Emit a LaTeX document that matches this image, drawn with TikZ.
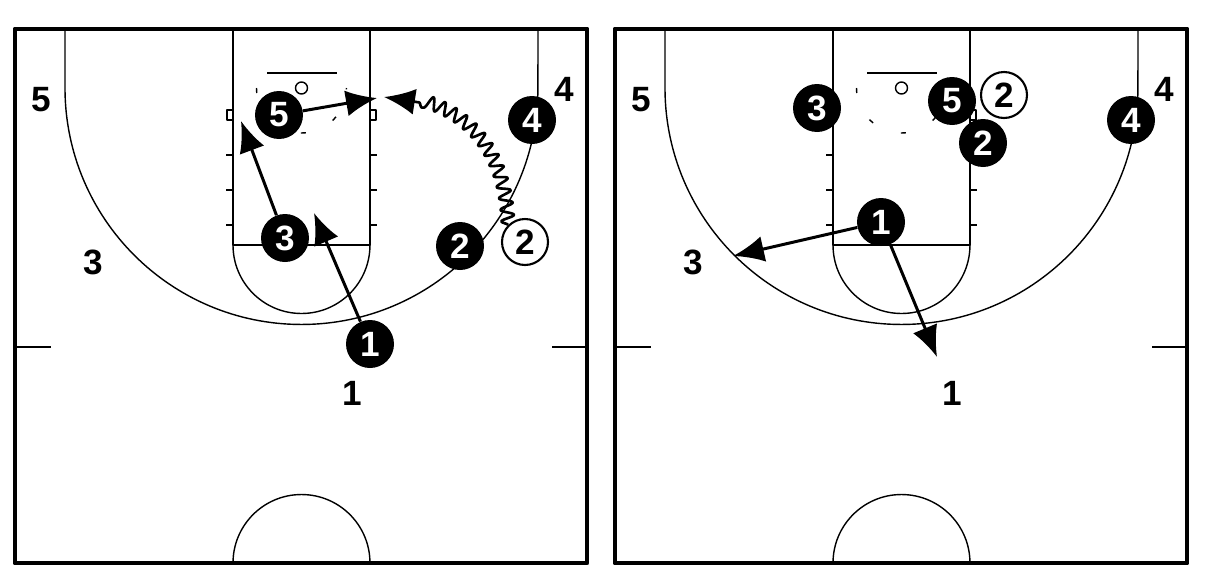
\documentclass[tikz,border=0pt]{standalone}
\usepackage{fontspec}
\setmainfont{Liberation Sans}
\usepackage{tikz}
\usetikzlibrary{arrows.meta,decorations.pathmorphing}

\begin{document}
\begin{tikzpicture}[x=0.02cm, y=-0.02cm, line join=round,
    court/.style={line width=0.8pt},
    border/.style={line width=2.8pt},
    plyr/.style={circle, fill=black, text=white, minimum size=0.96cm, inner sep=0pt, font=\bfseries\fontsize{20}{22}\selectfont},
    newspot/.style={circle, draw=black, line width=1.2pt, fill=white, minimum size=0.92cm, inner sep=0pt, font=\bfseries\fontsize{20}{22}\selectfont},
    spot/.style={inner sep=0pt, font=\bfseries\fontsize{20}{24}\selectfont},
    move/.style={line width=1.7pt, -{Latex[length=0.62cm,width=0.52cm]}},
    drib/.style={line width=1.5pt, -{Latex[length=0.62cm,width=0.52cm]}, decorate,
        decoration={snake, amplitude=0.13cm, segment length=0.24cm, post length=0.7cm}}]

    \useasboundingbox (0,0) rectangle (1206,582);

    % both half courts
    \foreach \ox in {0,600} {
    \begin{scope}[shift={(\ox,0)}]
        \draw[court] (65,30) -- (65,88) arc (180:360:4.73cm) -- (538,30);
        \draw[court] (233,30) rectangle (370,245);
        \draw[court] (233,245) arc (180:360:1.37cm);
        \draw[court] (267,73) -- (337,73);
        \draw[court] (301.5,88) circle (0.12cm);
        \draw[court, dash pattern=on 0.1cm off 0.6cm] (256.5,88) arc (180:360:0.9cm);
        \draw[court] (227,110) rectangle (233,120) (370,110) rectangle (376,120);
        \foreach \hy in {155,190,225}
            \draw[court] (226,\hy) -- (233,\hy) (370,\hy) -- (377,\hy);
        \draw[court] (15,347) -- (51,347) (552,347) -- (587,347);
        \draw[court] (233,563) arc (180:0:1.37cm);
        \draw[border] (15,29) rectangle (587,563);
    \end{scope}
    }

    % left: spots
    \node[spot] (l5) at (41,100) {5};
    \node[spot] (l3) at (93,262) {3};
    \node[spot] (l4) at (564,89) {4};
    \node[spot] (l1) at (352,393) {1};

    % left: players
    \node[plyr] (a5) at (279,115) {5};
    \node[plyr] (a3) at (285,238) {3};
    \node[plyr] (a4) at (532,120) {4};
    \node[plyr] (a2) at (460,246) {2};
    \node[newspot] (a2n) at (525,242) {2};
    \node[plyr] (a1) at (370,344) {1};

    \coordinate (t1) at (314,213);
    \coordinate (t3) at (241,121);
    \coordinate (t5) at (377,98);
    \coordinate (tz) at (384,97);

    \draw[move] (a1) -- (t1);
    \draw[move] (a3) -- (t3);
    \draw[move] (a5) -- (t5);
    \draw[drib] (a2n.north west) .. controls (505,150) and (465,102) .. (tz);

    % right: spots
    \node[spot] (r5) at (641,100) {5};
    \node[spot] (r3) at (693,262) {3};
    \node[spot] (r4) at (1164,89) {4};
    \node[spot] (r1) at (952,393) {1};

    % right: players
    \node[plyr] (b3) at (817,108) {3};
    \node[newspot] (b2n) at (1004,95) {2};
    \node[plyr] (b5) at (952,101) {5};
    \node[plyr] (b2) at (983,143) {2};
    \node[plyr] (b4) at (1131,120) {4};
    \node[plyr] (b1) at (881,222) {1};

    \coordinate (u3) at (733,256);
    \coordinate (u1) at (937,357);

    \draw[move] (b1) -- (u3);
    \draw[move] (b1) -- (u1);
\end{tikzpicture}
\end{document}
